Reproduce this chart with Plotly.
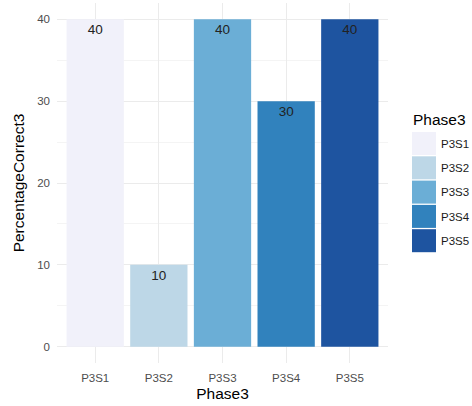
import plotly.graph_objects as go

categories = ["P3S1", "P3S2", "P3S3", "P3S4", "P3S5"]
values = [40, 10, 40, 30, 40]
colors = ["#F1F1FA", "#BDD7E7", "#6BAED6", "#3182BD", "#1E54A0"]

W, H = 472, 406
ml, mr, mt, mb = 57, 84, 3, 43
pw, ph = W - ml - mr, H - mt - mb

fig = go.Figure()
fig.add_trace(go.Bar(
    x=categories, y=values, marker=dict(color=colors, line=dict(width=0)),
    width=0.9, text=[str(v) for v in values], textposition="inside",
    insidetextanchor="end", textangle=0,
    textfont=dict(size=13.5, color="#222222", family="Liberation Sans"),
    showlegend=False,
))

# legend (ggplot-style)
def px_x(x):
    return (x - ml) / pw

def px_y(y):
    return (H - mb - y) / ph

shapes = []
annotations = [dict(text="Phase3", x=px_x(411), y=px_y(120), xref="paper", yref="paper",
                    xanchor="left", yanchor="middle", showarrow=False,
                    font=dict(size=15.5, color="#000000", family="Liberation Sans"))]
key_top, key_h = 132, 24.3
for i, (c, col) in enumerate(zip(categories, colors)):
    t = key_top + i * key_h
    shapes.append(dict(type="rect", xref="paper", yref="paper",
                       x0=px_x(412), x1=px_x(436), y0=px_y(t + key_h - 1.3), y1=px_y(t),
                       fillcolor=col, line=dict(width=0)))
    annotations.append(dict(text=c, x=px_x(439), y=px_y(t + key_h / 2 - 0.5), xref="paper", yref="paper",
                            xanchor="left", yanchor="middle", showarrow=False,
                            font=dict(size=11.5, color="#1a1a1a", family="Liberation Sans")))

fig.update_layout(
    width=W, height=H, margin=dict(l=ml, r=mr, t=mt, b=mb),
    plot_bgcolor="white", paper_bgcolor="white",
    font=dict(family="Liberation Sans"),
    bargap=0.1, shapes=shapes, annotations=annotations,
    uniformtext=dict(minsize=13, mode="show"),
)
fig.update_xaxes(
    range=[-0.6, 4.6], showgrid=True, gridcolor="#EBEBEB", gridwidth=1,
    zeroline=False, showline=False, ticks="", ticklabelstandoff=6,
    tickfont=dict(size=11.5, color="#4D4D4D"),
    title=dict(text="Phase3", font=dict(size=15.5, color="#000000"), standoff=5),
)
fig.update_yaxes(
    range=[-2, 42], tickvals=[0, 10, 20, 30, 40], showgrid=True, gridcolor="#EBEBEB",
    gridwidth=1, zeroline=False, showline=False, ticks="", ticklabelstandoff=6,
    minor=dict(tickvals=[5, 15, 25, 35], showgrid=True, gridcolor="#F4F4F4", gridwidth=1),
    tickfont=dict(size=11.5, color="#4D4D4D"),
    title=dict(text="PercentageCorrect3", font=dict(size=15.5, color="#000000"), standoff=8),
)

fig.write_html("out.html", config={"displayModeBar": False},
               post_script="document.body.style.margin='0px';")
